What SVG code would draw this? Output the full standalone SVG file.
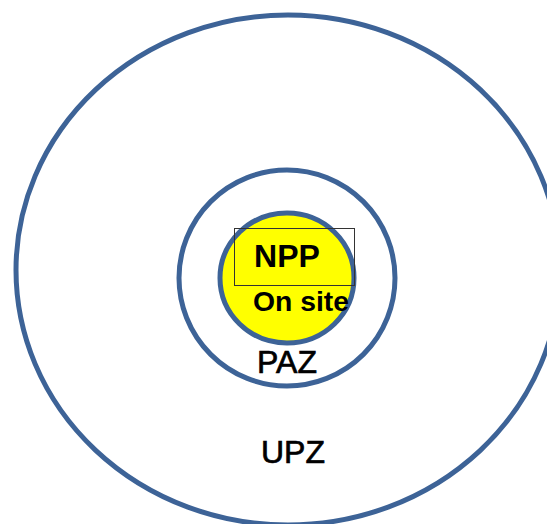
<svg xmlns="http://www.w3.org/2000/svg" width="547" height="524" viewBox="0 0 547 524">
  <style>
    .zone { fill: none; stroke: #3d6397; stroke-width: 5; }
    .label { font-family: "Liberation Sans", Arial, sans-serif; fill: #000; text-anchor: middle; }
    .bold { font-weight: bold; }
    .heavy { stroke: #000; stroke-width: 0.7; }
  </style>
  <rect x="0" y="0" width="547" height="524" fill="#ffffff"/>

  <!-- Urgent protective action planning zone -->
  <g id="upz">
    <ellipse class="zone" cx="288" cy="270" rx="272" ry="255"/>
    <text class="label heavy" x="293" y="463" font-size="32">UPZ</text>
  </g>

  <!-- Precautionary action zone -->
  <g id="paz">
    <circle class="zone" cx="287" cy="278" r="108"/>
    <text class="label heavy" x="287" y="373" font-size="32">PAZ</text>
  </g>

  <!-- On-site area around the plant -->
  <g id="onsite">
    <ellipse class="zone" cx="287" cy="278" rx="67" ry="65" style="fill:#ffff00"/>
    <text class="label bold" x="301" y="311" font-size="27" textLength="96" lengthAdjust="spacingAndGlyphs">On site</text>
  </g>

  <!-- Nuclear power plant -->
  <g id="npp">
    <rect x="234.5" y="228.5" width="120" height="57" fill="none" stroke="#333333" stroke-width="1"/>
    <text class="label bold" x="287" y="267" font-size="32">NPP</text>
  </g>
</svg>
